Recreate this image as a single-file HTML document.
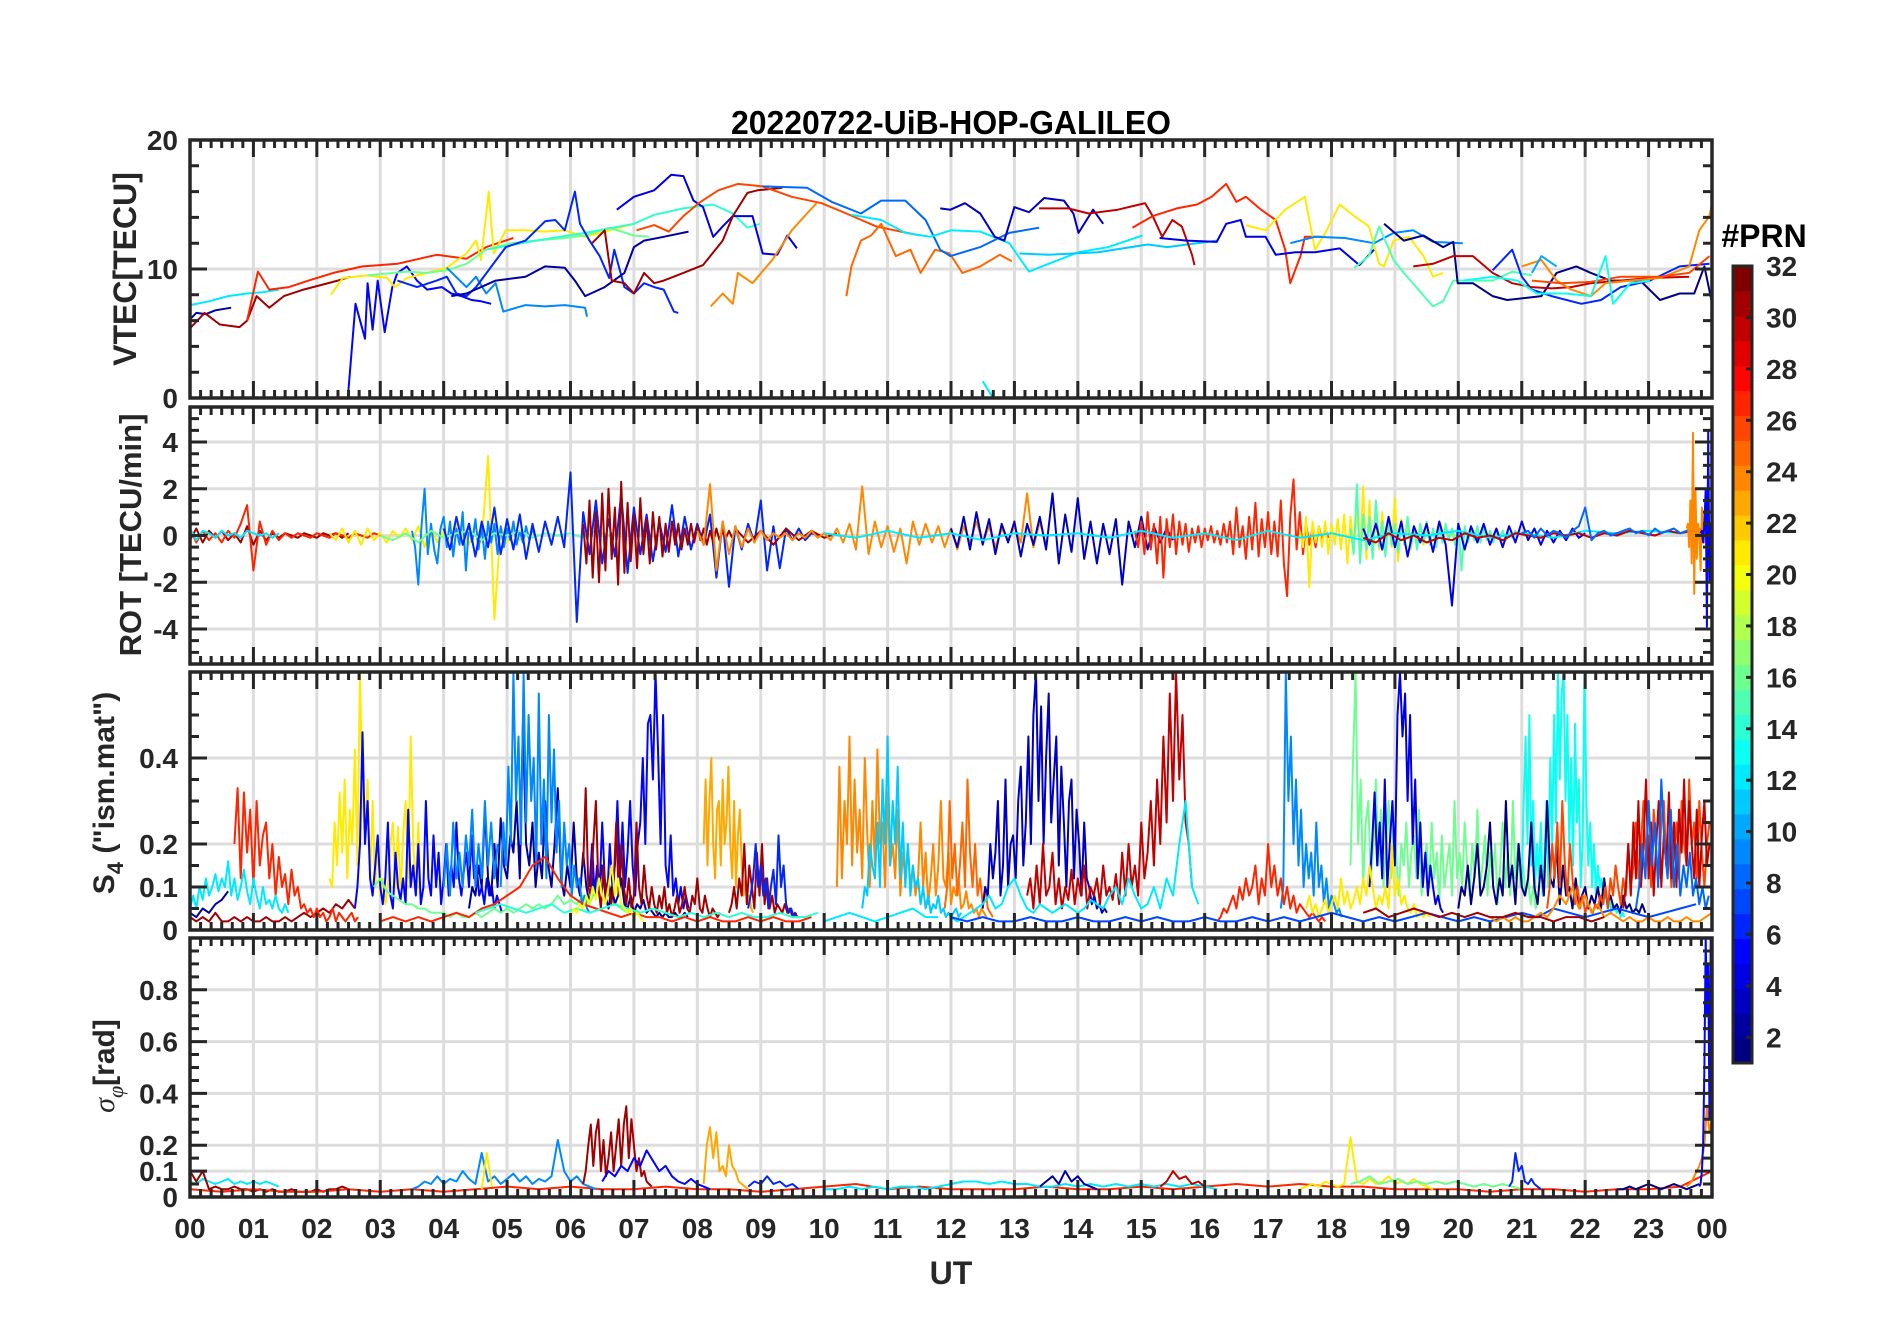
<!DOCTYPE html>
<html><head><meta charset="utf-8"><title>20220722-UiB-HOP-GALILEO</title>
<style>
html,body{margin:0;padding:0;background:#fff;}
svg{display:block;}
text{font-family:"Liberation Sans",Arial,sans-serif;font-weight:bold;fill:#262626;}
</style></head>
<body>
<svg id="chart" xmlns="http://www.w3.org/2000/svg" width="1902" height="1330" viewBox="0 0 1902 1330">
<rect x="0" y="0" width="1902" height="1330" fill="#fff"/>
<g id="grids"></g>
<g id="series"></g>
<g id="axes"></g>
<g id="cbar"></g>
<text x="951" y="134" text-anchor="middle" font-size="33" textLength="440" lengthAdjust="spacingAndGlyphs" style="fill:#000">20220722-UiB-HOP-GALILEO</text>
<text x="951" y="1284" text-anchor="middle" font-size="32">UT</text>
<text transform="translate(125,269) rotate(-90)" y="11" text-anchor="middle" font-size="32">VTEC[TECU]</text>
<text transform="translate(130,535) rotate(-90)" y="11" text-anchor="middle" font-size="31">ROT [TECU/min]</text>
<text transform="translate(103,793) rotate(-90)" y="11" text-anchor="middle" font-size="30">S<tspan font-size="22" dy="9">4</tspan><tspan dy="-9"> ("ism.mat")</tspan></text>
<text transform="translate(104,1066) rotate(-90)" y="10" text-anchor="middle" font-size="30"><tspan style="font-family:'Liberation Serif',serif;font-style:italic;font-weight:normal">σ</tspan><tspan font-size="22" dy="9" style="font-family:'Liberation Serif',serif;font-style:italic;font-weight:normal">φ</tspan><tspan dy="-9">[rad]</tspan></text>
<text x="1764" y="247" text-anchor="middle" font-size="32" style="fill:#000">#PRN</text>
</svg>
<script>
// ---------- VTEC data (hours, TECU) ----------
const vtecPrn = [12,2,31,27,5,21,16,14,9,6,2,4,31,26,24,25,8,12,11,3,30,27,4,21,9,15,1,6,30,24,26,13,12,10];
const vtecTimes = [
[0,0.3,0.6,0.9,1.15,1.4],
[0,0.1,0.25,0.4,0.65],
[0,0.23,0.47,0.78,0.9,1.05,1.25,1.48,1.79,2.33,2.53],
[0.9,1.07,1.25,1.56,1.87,2.26,2.72,3.27,3.89,4.36,4.67,5.1],
[2.49,2.61,2.76,2.8,2.88,2.96,3.07,3.19,3.27,3.42,3.58,3.74,3.97,4.12,4.28,4.44,4.59,4.75],
[2.22,2.41,2.8,3.11,3.23,3.42,3.74,4.05,4.36,4.51,4.59,4.71,4.79,4.98,5.29,5.6,5.91,6.23,6.54,6.85,7.0],
[2.8,3.42,3.74,4.05,4.36,4.67,5.06,5.45,5.91,6.23,6.61,7.0,7.24],
[4.67,5.45,6.23,7.0,7.32,7.78,8.25,8.56,8.79,8.99],
[4.05,4.36,4.51,4.67,4.82,4.94,5.29,5.6,5.91,6.23,6.26],
[3.27,3.58,3.89,4.05,4.2,4.36,4.51,4.98,5.29,5.6,5.76,5.91,6.07,6.15,6.3,6.46,6.61,6.69,6.85,7.0,7.16,7.32,7.47,7.63,7.7],
[4.12,4.36,4.82,5.29,5.6,5.91,6.07,6.23,6.54,6.85,7.0,7.16,7.47,7.86],
[6.73,7.0,7.32,7.59,7.78,7.94,8.09,8.25,8.4,8.56,8.87,9.03,9.26,9.42,9.57],
[6.34,6.54,6.65,6.85,7.0,7.16,7.32,7.47,7.78,8.09,8.4,8.56,8.79,8.95,9.34],
[7.04,7.32,7.55,7.78,8.02,8.33,8.64,9.03,9.49,9.96,10.35,10.82,11.21,11.52],
[8.21,8.4,8.56,8.64,8.87,9.18,9.49,9.73,9.88],
[10.35,10.43,10.58,10.74,10.9,11.13,11.36,11.52,11.75,11.98,12.18,12.46,12.77,12.96],
[9.03,9.73,10.12,10.58,10.9,11.28,11.6,11.83,11.99,12.46,12.92,13.39],
[10.43,10.9,11.28,11.67,12.0,12.46,12.92,13.23,13.54,14.01,14.48,15.02],
[13.08,13.54,14.32,15.1,15.41,16.19],
[11.83,11.99,12.22,12.46,12.69,12.84,13.0,13.23,13.47,13.78,13.93,14.01,14.24,14.4],
[13.39,13.85,14.17,14.63,15.06,15.18,15.33,15.49,15.64,15.8,15.84],
[14.86,15.18,15.56,15.88,16.11,16.34,16.5,16.65,16.89,17.12,17.27,17.35,17.51,17.58,17.9],
[15.29,15.72,16.19,16.34,16.57,16.65,16.96,17.12,17.43,17.74,18.13,18.44,18.67],
[16.65,16.96,17.27,17.58,17.74,17.9,18.13,18.36,18.59,18.75,18.83,18.98,19.22,19.45,19.6,19.76],
[17.35,17.74,18.21,18.67,18.98,19.29,19.6,20.07],
[18.36,18.59,18.75,18.98,19.14,19.37,19.6,19.76,19.92,20.23,20.54,20.85,21.16],
[18.83,19.14,19.45,19.76,19.92,19.99,20.23,20.54,20.77,21.31,21.55,21.86,22.09,22.4,22.87,23.18,23.49,23.72,23.88,23.99],
[20.54,20.85,21.0,21.16,21.47,21.94,22.25,22.56,23.02,23.49,23.96],
[19.29,19.6,19.92,20.23,20.54,20.85,21.16,21.47,21.78,22.09,22.56,23.02,23.64],
[21.0,21.31,21.55,21.78,22.09,22.32,22.71,23.18,23.64,23.8,23.96,24.0],
[21.16,21.62,22.09,22.56,23.18,23.64,23.96],
[20.07,20.54,20.93,21.24,21.7,22.09,22.32,22.44,22.71,23.02],
[12.5,12.65],
[21.16,21.31,21.55]
];
const vtecVals = [
[7.2,7.5,7.9,8.1,8.2,8.4],
[6.1,6.6,6.5,6.8,7.0],
[5.4,6.6,5.7,5.5,6.0,7.9,7.0,7.9,8.4,9.1,9.4],
[6.0,9.8,8.4,8.6,9.1,9.7,10.2,10.4,11.1,10.8,11.7,12.4],
[0.1,7.3,4.6,8.9,5.3,9.1,5.1,8.6,9.7,10.2,9.1,8.4,8.6,8.1,7.9,7.6,7.5,7.3],
[8.0,9.3,9.5,9.3,8.6,9.3,9.7,10.1,11.2,12.2,10.7,16.0,11.2,13.0,13.0,12.9,13.0,12.5,12.9,13.3,13.5],
[9.5,9.8,9.7,9.9,10.4,11.5,12.0,12.2,12.4,12.6,13.2,12.6,12.5],
[11.5,12.2,12.8,13.5,14.2,14.7,15.0,14.3,13.2,13.5],
[10.1,8.6,9.4,8.1,8.9,6.7,7.2,7.1,7.2,7.0,6.3],
[9.1,8.6,9.1,9.4,8.1,7.9,8.6,11.7,12.2,13.7,13.8,13.0,16.0,13.5,12.2,11.0,9.3,11.5,8.6,8.1,8.9,8.6,8.4,6.7,6.6],
[7.9,8.1,9.1,9.4,10.2,10.1,9.1,7.9,8.6,9.7,11.7,12.2,12.5,12.9],
[14.6,15.6,16.1,17.3,17.2,15.3,14.8,12.5,13.3,14.1,14.1,11.2,11.1,12.6,11.6],
[12.0,13.0,9.1,8.9,8.1,9.7,8.9,9.1,9.7,10.3,12.2,14.1,15.9,16.1,16.3],
[13.0,13.4,12.9,14.1,15.1,16.1,16.6,16.4,15.6,15.1,14.3,13.3,12.9,12.6],
[7.1,8.1,7.3,9.7,8.9,10.7,13.0,14.3,15.1],
[7.9,10.2,12.2,12.6,13.5,11.0,11.5,9.7,11.5,11.2,9.7,10.2,11.1,10.6],
[16.4,16.3,15.2,14.3,15.3,15.3,13.8,11.5,11.0,11.7,12.8,13.2],
[14.2,13.8,12.8,12.5,13.0,12.9,12.0,9.8,10.4,11.3,11.7,12.6],
[11.2,11.1,11.3,11.9,11.7,12.2],
[14.7,14.6,15.1,14.3,12.5,12.2,14.8,14.4,15.5,15.3,14.3,12.8,14.6,13.5],
[14.7,14.7,14.3,14.6,15.1,14.1,12.5,13.8,13.3,11.1,10.3],
[13.2,14.1,14.7,15.0,15.6,16.6,15.2,15.6,14.6,13.8,11.5,8.9,11.0,12.5,12.5],
[12.4,12.2,12.1,13.5,13.8,12.5,12.5,11.1,11.3,11.3,11.6,10.3,11.5],
[13.4,13.0,14.6,15.6,11.5,12.8,15.0,14.1,13.3,10.4,10.2,12.2,12.5,11.0,9.4,9.7],
[12.0,12.5,12.4,12.0,12.8,13.0,12.1,12.0],
[10.1,11.0,13.3,10.7,9.7,8.4,7.1,7.5,9.1,9.1,9.1,9.8,9.5],
[13.5,12.2,12.6,11.7,12.1,8.9,8.9,7.9,7.6,7.9,9.7,10.2,9.7,9.1,9.1,7.6,8.1,8.1,10.2,7.6],
[9.9,11.5,9.4,8.4,7.9,7.3,7.6,8.6,9.1,10.2,10.4],
[10.2,10.4,11.0,11.0,9.7,8.9,8.6,8.5,8.6,8.9,9.1,9.3,9.4],
[10.2,10.7,9.1,8.4,7.9,8.9,9.1,9.3,10.2,13.0,14.1,15.1],
[9.1,8.9,9.0,9.4,9.4,9.7,11.0],
[9.1,9.4,9.1,8.1,8.1,7.9,11.0,7.3,8.9,9.1],
[1.3,0.1],
[9.7,11.0,10.2]
];

// ---------- ROT data (regular sampling: start hour, step hours) ----------
const rotPrn = [31,27,12,21,9,16,6,31,31,24,3,27,21,15,4,12,30,8,24,5];
const rotStart = [0,0,0,2.2,3.5,3.0,4.0,6.2,8.6,8.0,12.0,14.9,17.5,18.3,18.5,10.0,18.5,21.0,23.6,23.82];
const rotStep = [0.1,0.1,0.1,0.1,0.05,0.2,0.1,0.05,0.2,0.1,0.1,0.05,0.05,0.05,0.1,0.5,0.2,0.1,0.02,0.02];
const rotVals = [
[-0.2,0.3,-0.3,0.2,-0.1,0.2,-0.2,0.1,-0.3,0.4,-0.4,0.2,-0.2,0.1,-0.1,0.1,0,-0.1,0.1,0,-0.1,0.1,0,0.1,-0.1,0.1],
[0.3,-0.3,0.2,-0.2,0.1,-0.3,0.2,-0.1,0.5,1.3,-1.5,0.6,-0.4,0.2,-0.2,0.1,-0.1,0.1,0.0,-0.1,0.1,0,-0.1,0.1,0,-0.1,0.1,0.0,-0.1,0.1,0],
[0.3,-0.2,0.2,0.1,-0.1,0.2,0,0.1,-0.1,0.2,0.1,0,0.1,-0.1,0.1],
[0.1,-0.2,0.3,-0.3,0.2,-0.4,0.3,-0.2,0.1,-0.3,0.2,-0.1,0.3,-0.2,0.4,-0.5,0.3,-0.3,0.2,-0.6,0.5,0.3,-0.4,0.4,-0.3,3.4,-3.6,0.4,-0.3,0.2,-0.2,0.1],
[0.2,-0.5,-2.1,0.4,2.0,-0.8,0.5,-0.6,-1.2,0.3,0.8,-0.5,0.6,-0.9,0.3,-0.4,1.0,-1.5,0.5,-0.3,0.7,-0.6,0.4,-1.0,0.6,-0.3,0.5,-0.8,0.4,-0.5,0.3,-0.2,0.6,-0.4,0.2,-0.3,0.4,-0.2,0.3,-0.1],
[0,-0.2,0.1,-0.3,0.2,-0.1,0.1,0.2,-0.2,0.1,0,0.2,-0.1,0.1,0,0.1,-0.1,0.2,0,0.1],
[0.3,-0.6,0.8,-0.4,0.5,-0.9,0.6,-0.5,1.2,-0.8,0.7,-0.6,0.9,-1.0,0.5,-0.7,0.6,-0.4,0.8,-0.5,2.7,-3.7,1.0,-0.8,1.5,-1.2,0.7,-0.9,1.8,-1.6,1.2,-0.8,0.9,-1.1,0.6,-0.7,1.3,-0.9,0.8,-0.6,0.5,-0.4,0.9,-1.8,0.6,-2.2,0.4,-0.6,0.5,-0.3,1.5,-1.5,0.4,-1.4,0.3,-0.2,0.3,-0.2,0.1,0],
[0.5,-1.2,1.5,-1.8,1.0,-2.0,1.8,-1.5,2.0,-1.0,1.2,-2.1,2.3,-1.6,1.4,-1.1,0.9,-1.4,1.6,-0.8,0.7,-1.2,1.0,-0.6,0.8,-0.9,0.5,-0.7,0.6,-0.4,0.5,-0.6,0.3,-0.4,0.5,-0.3,0.4,-0.2,0.3,-0.4,0.2,-0.3,0.3,-0.2,0.2,-0.1,0.2,-0.1],
[0.3,-0.3,0.2,-0.4,0.3,-0.2,0.2,-0.1,0.1],
[0.2,-0.4,2.2,-1.5,0.6,-0.8,0.4,-0.5,0.3,-0.3,0.2,-0.2,0.1,-0.1,0.1,-0.2,0.1,-0.1,0.2,-0.1,0.1,-0.2,0.3,-0.3,0.5,-0.6,2.1,-0.8,0.6,-0.5,0.4,-0.7,0.3,-1.2,0.6,-0.4,0.5,-0.3,0.4,-0.5,0.3,-0.6,0.4,-0.3,0.6,-0.3,0.4,-0.5,0.3,-0.2,0.4,-0.3,1.8,-0.5,0.6,-0.4],
[0.3,-0.5,0.8,-0.6,1.0,-0.4,0.7,-0.8,0.5,-0.3,0.6,-0.9,0.5,-0.4,0.8,-0.6,1.8,-1.2,0.9,-0.7,1.6,-1.0,0.6,-1.2,0.5,-0.8,0.7,-2.1,0.6,-0.5,0.8,-0.6,0.4,-0.3,0.3,-0.2],
[0.2,-0.5,0.6,-0.8,1.0,-0.6,0.5,-1.2,0.8,-1.8,0.7,-0.5,0.9,-0.8,0.6,-0.4,0.5,-0.7,0.3,-0.3,0.4,-0.5,0.3,-0.2,0.4,-0.3,0.2,-0.4,0.5,-0.3,0.6,-0.8,1.2,-0.5,0.4,-1.0,0.8,-0.6,1.4,-0.9,0.7,-0.5,1.0,-0.8,0.6,-0.9,1.5,-1.2,-2.6,0.8,2.4,-0.6,1.0,-0.8,0.5,-0.4,0.3,-0.5,0.4,-0.2,0.3,-0.1],
[0.2,-0.5,0.8,-2.2,0.6,-0.3,0.4,-0.5,0.6,-0.8,0.5,-0.4,0.7,-0.6,0.9,-1.2,0.8,-0.5,1.2,-0.8,2.1,-1.0,1.5,-0.9,0.8,-0.6,1.0,-0.7,0.6,-0.5,1.6,-1.1,0.7,-0.4,0.5,-0.6,0.4,-0.3,0.5,-0.4,0.3,-0.3,0.2,-0.2,0.3,-0.2,0.2,-0.1,0.1,0],
[0.3,-0.8,2.2,-1.2,0.9,-0.6,0.8,-1.0,1.5,-0.5,0.6,-0.9,0.7,-0.4,0.5,-0.7,0.6,-0.4,0.8,-0.5,0.4,-0.6,0.5,-0.3,0.6,-0.4,0.3,-0.5,0.4,-0.3,0.5,-0.2,0.3,-0.4,0.5,-1.5,0.4,-0.3,0.3,-0.2,0.4,-0.3,0.3,-0.2,0.2,-0.3,0.2,-0.1,0.2,-0.2,0.1,-0.1,0.2,0],
[0.3,-0.4,0.5,-0.6,0.8,-0.5,0.6,-0.9,0.4,-0.3,0.5,-0.7,0.6,-0.4,-3.0,0.5,-0.6,0.4,-0.3,0.5,-0.4,0.3,-0.5,0.4,-0.3,0.6,-0.2,0.3,-0.4,0.2,-0.3,0.2,-0.2,0.3,-0.1,0.1],
[0.1,-0.1,0.2,-0.1,0.1,-0.2,0.1,0,0.1,-0.1,0.2,-0.1,0.1,-0.2,0.2,-0.1,0.1,-0.2,0.1,0,0.2,-0.1,0.1,-0.1,0.2,0.1,0.2,0.1,0.3],
[-0.1,-0.3,0.1,-0.2,0,-0.3,-0.1,-0.2,0.1,-0.1,0,-0.2,0.1,0,-0.1,0.1,0,0.1,-0.1,0.1,0,0.2,0.1,0,0.2,0.1,0.2,0.3],
[0.1,0.2,-0.1,0.3,0,0.2,0.1,-0.1,0.2,0.4,1.2,-0.2,0.1,0.2,0,0.1,0.2,0.3,0.1,0.2,0,0.3,0.1,0.2,0.3,0.1,0.2,0.4,0.2,0.3],
[0.3,0.5,-0.5,1.5,-1.2,4.4,-2.5,2,-1,0.5,0.2,-1.5,1.2,0.4,-0.3,0.8,-0.5,0.2,0.4,0.1,0.5],
[0.1,0.2,-0.3,0.5,2,-3.9,4.5,-2,0.5]
];

// ---------- S4 data ----------
const s4Prn = [31,27,12,2,21,5,16,2,9,9,5,31,23,31,6,24,25,11,3,30,12,12,9,27,16,4,21,13,1,26,30,7,24,31,27,14,20,8];
const s4Start = [0,0.7,0,0,2.2,2.6,2.9,4.4,4.9,4.0,6.3,6.2,8.1,8.5,8.8,10.2,11.9,10.6,12.5,13.2,12.0,10.0,17.2,16.2,18.3,18.6,17.6,21.0,20.0,21.4,22.6,12.0,20.5,18.5,3.0,4.5,6.0,22.8];
const s4Step = [0.1,0.05,0.05,0.1,0.04,0.04,0.1,0.05,0.04,0.05,0.04,0.04,0.03,0.04,0.04,0.04,0.04,0.04,0.04,0.05,0.1,0.2,0.04,0.05,0.04,0.04,0.05,0.03,0.05,0.04,0.04,0.25,0.1,0.2,0.2,0.2,0.05,0.05];
const s4Vals = [
[0.03,0.02,0.03,0.02,0.04,0.02,0.02,0.03,0.02,0.03,0.02,0.02,0.03,0.02,0.02,0.03,0.02,0.03,0.04,0.03,0.04,0.05,0.04,0.06,0.05,0.07,0.05],
[0.2,0.33,0.12,0.32,0.18,0.28,0.1,0.3,0.15,0.22,0.25,0.12,0.2,0.08,0.17,0.1,0.13,0.06,0.14,0.08,0.1,0.05,0.06,0.04,0.05,0.03,0.05,0.03,0.04,0.02,0.03,0.05,0.02,0.04,0.03,0.02,0.03,0.04,0.02,0.03],
[0.05,0.08,0.05,0.1,0.07,0.12,0.08,0.1,0.13,0.09,0.12,0.1,0.16,0.08,0.12,0.07,0.1,0.14,0.09,0.06,0.12,0.08,0.05,0.1,0.06,0.07,0.05,0.08,0.05,0.04,0.06,0.04],
[0.04,0.03,0.05,0.04,0.06,0.07,0.09],
[0.12,0.1,0.25,0.15,0.32,0.18,0.35,0.12,0.28,0.2,0.42,0.15,0.6,0.3,0.22,0.35,0.12,0.3,0.1,0.2,0.08,0.12,0.06,0.1,0.2,0.25,0.1,0.24,0.08,0.22,0.3,0.12,0.45,0.2,0.1,0.25,0.08],
[0.05,0.1,0.2,0.46,0.2,0.3,0.12,0.08,0.15,0.22,0.1,0.06,0.12,0.25,0.08,0.05,0.18,0.1,0.07,0.12,0.06,0.28,0.1,0.15,0.08,0.2,0.06,0.1,0.3,0.12,0.08,0.22,0.1,0.18,0.06,0.12,0.2,0.08,0.15,0.1,0.25,0.12,0.08,0.14,0.18,0.1,0.22,0.12,0.15,0.08,0.1,0.06,0.12,0.08,0.1,0.05,0.08,0.06,0.04],
[0.1,0.12,0.09,0.08,0.07,0.06,0.06,0.05,0.05,0.04,0.04,0.04,0.03,0.04,0.03,0.03,0.04,0.03,0.04,0.05,0.04,0.05,0.04,0.05,0.06,0.05,0.06,0.05,0.06,0.08,0.06,0.07,0.06,0.08,0.06,0.1,0.15,0.08,0.06,0.05,0.04,0.05,0.04],
[0.05,0.1,0.08,0.15,0.1,0.28,0.12,0.08,0.2,0.1,0.26,0.15,0.12,0.22,0.18,0.3,0.12,0.48,0.2,0.15,0.25,0.1,0.18,0.12,0.3,0.15,0.1,0.2,0.33,0.12,0.08,0.15,0.1,0.25,0.12,0.08,0.18,0.1,0.06,0.12,0.08,0.1,0.15,0.08,0.05,0.1,0.06,0.08,0.12,0.06,0.05,0.08,0.04,0.06,0.05,0.07,0.04,0.05,0.04,0.03,0.04,0.03,0.04,0.03,0.03,0.04,0.03,0.03,0.04,0.03],
[0.1,0.25,0.15,0.38,0.2,0.6,0.3,0.45,0.2,0.6,0.25,0.5,0.3,0.4,0.15,0.55,0.2,0.35,0.12,0.5,0.25,0.42,0.18,0.3,0.1,0.25,0.15,0.2,0.08,0.15,0.1,0.12,0.06,0.08,0.05,0.04],
[0.1,0.2,0.08,0.25,0.12,0.18,0.1,0.22,0.15,0.28,0.1,0.2,0.12,0.3,0.15,0.25,0.12,0.2],
[0.1,0.2,0.08,0.15,0.1,0.25,0.12,0.08,0.2,0.1,0.15,0.3,0.12,0.25,0.1,0.18,0.3,0.15,0.08,0.2,0.25,0.4,0.2,0.48,0.5,0.35,0.6,0.42,0.2,0.5,0.15,0.1,0.22,0.08,0.12,0.06,0.1,0.05,0.08,0.05],
[0.15,0.33,0.1,0.08,0.2,0.3,0.1,0.05,0.15,0.07,0.12,0.06,0.1,0.25,0.08,0.2,0.1,0.06,0.12,0.05,0.08,0.25,0.1,0.06,0.15,0.08,0.05,0.1,0.06,0.04,0.08,0.05,0.1,0.04,0.06,0.03,0.05,0.08,0.04,0.06,0.1,0.05,0.04,0.08,0.06,0.12,0.05,0.04,0.08,0.05,0.03,0.05,0.04,0.03,0.04],
[0.2,0.35,0.15,0.3,0.4,0.2,0.12,0.28,0.3,0.15,0.35,0.2,0.25,0.38,0.2,0.12,0.3,0.1,0.22,0.28,0.15,0.08,0.12,0.06,0.08,0.05,0.04],
[0.04,0.06,0.1,0.05,0.12,0.08,0.2,0.06,0.15,0.1,0.05,0.18,0.08,0.2,0.06,0.12,0.05,0.08,0.04,0.06,0.05,0.04,0.06,0.04,0.05,0.03,0.04,0.03],
[0.05,0.08,0.12,0.2,0.1,0.15,0.08,0.12,0.05,0.1,0.14,0.06,0.22,0.1,0.15,0.06,0.04,0.05,0.03,0.04],
[0.1,0.38,0.12,0.3,0.2,0.45,0.15,0.35,0.18,0.28,0.12,0.4,0.22,0.1,0.3,0.15,0.42,0.2,0.25,0.1,0.32,0.15,0.2,0.12,0.28,0.08,0.18,0.12,0.2,0.1,0.15,0.08,0.12,0.25,0.1,0.18,0.06,0.12,0.2,0.08,0.15,0.3,0.12,0.1,0.18,0.06,0.1,0.08,0.12,0.05,0.06,0.09,0.05,0.06,0.04,0.05,0.03,0.05,0.04,0.03],
[0.05,0.1,0.3,0.12,0.2,0.08,0.15,0.25,0.1,0.35,0.18,0.1,0.2,0.08,0.12,0.06,0.1,0.05,0.04,0.03],
[0.05,0.1,0.08,0.2,0.15,0.12,0.25,0.1,0.35,0.2,0.45,0.15,0.3,0.2,0.38,0.12,0.25,0.1,0.2,0.08,0.15,0.1,0.12,0.06,0.1,0.05,0.08,0.04,0.06,0.05,0.08,0.04,0.05,0.03,0.04,0.03,0.04,0.05,0.03,0.04],
[0.05,0.1,0.08,0.2,0.12,0.18,0.3,0.08,0.15,0.35,0.1,0.2,0.22,0.12,0.3,0.38,0.15,0.25,0.45,0.2,0.5,0.6,0.3,0.52,0.2,0.4,0.55,0.25,0.35,0.45,0.15,0.38,0.25,0.1,0.3,0.35,0.12,0.28,0.2,0.08,0.25,0.12,0.1,0.06,0.08,0.05,0.06,0.04,0.05,0.04],
[0.08,0.12,0.05,0.15,0.06,0.2,0.08,0.1,0.18,0.06,0.12,0.05,0.1,0.07,0.14,0.06,0.12,0.08,0.15,0.05,0.1,0.08,0.12,0.06,0.15,0.08,0.1,0.07,0.13,0.06,0.18,0.08,0.2,0.1,0.15,0.08,0.25,0.12,0.18,0.3,0.15,0.35,0.2,0.45,0.25,0.55,0.3,0.6,0.35,0.5,0.25,0.2,0.1],
[0.03,0.02,0.03,0.04,0.05,0.06,0.08,0.05,0.06,0.1,0.12,0.08,0.05,0.04,0.06,0.05,0.04,0.05,0.06,0.05,0.04,0.05,0.07,0.06,0.05,0.08,0.1,0.06,0.12,0.08,0.05,0.06,0.1,0.05,0.12,0.08,0.2,0.3,0.1,0.06],
[0.02,0.03,0.04,0.03,0.02,0.03,0.04,0.05,0.03,0.03],
[0.05,0.1,0.6,0.3,0.45,0.2,0.35,0.15,0.28,0.1,0.2,0.12,0.18,0.08,0.25,0.1,0.15,0.06,0.12,0.05,0.08,0.06,0.04,0.05,0.03],
[0.02,0.03,0.05,0.04,0.06,0.08,0.05,0.1,0.07,0.12,0.08,0.1,0.15,0.06,0.12,0.08,0.2,0.1,0.15,0.08,0.12,0.06,0.1,0.05,0.08,0.04,0.06,0.05,0.04,0.03,0.04,0.03,0.02,0.03,0.02],
[0.15,0.4,0.6,0.2,0.35,0.1,0.25,0.3,0.12,0.2,0.35,0.15,0.28,0.1,0.2,0.3,0.12,0.25,0.18,0.08,0.2,0.15,0.25,0.1,0.18,0.22,0.12,0.28,0.08,0.15,0.2,0.1,0.25,0.12,0.18,0.06,0.22,0.1,0.15,0.2,0.08,0.3,0.12,0.18,0.1,0.25,0.15,0.08,0.2,0.12,0.28,0.1,0.15,0.22,0.08,0.18,0.12,0.2,0.06,0.15,0.25,0.1,0.18,0.08,0.3,0.12,0.2,0.1,0.15,0.08,0.12,0.06,0.1,0.05,0.08],
[0.1,0.2,0.32,0.15,0.25,0.12,0.35,0.1,0.2,0.3,0.15,0.5,0.6,0.45,0.55,0.3,0.5,0.2,0.35,0.12,0.25,0.1,0.18,0.08,0.15,0.1,0.06,0.08,0.05,0.04],
[0.05,0.08,0.04,0.06,0.03,0.05,0.07,0.04,0.06,0.08,0.05,0.12,0.06,0.09,0.05,0.07,0.1,0.06,0.12,0.08,0.15,0.1,0.05,0.08,0.06,0.1,0.05,0.2,0.08,0.12,0.06,0.08,0.05,0.04,0.06,0.03,0.04,0.03,0.04,0.03],
[0.1,0.3,0.45,0.2,0.5,0.15,0.3,0.1,0.2,0.12,0.25,0.08,0.18,0.3,0.1,0.4,0.2,0.5,0.25,0.6,0.35,0.55,0.6,0.3,0.5,0.2,0.4,0.15,0.48,0.25,0.35,0.1,0.2,0.6,0.3,0.15,0.25,0.1,0.2,0.08,0.15,0.1,0.12,0.06,0.1,0.05,0.08,0.04,0.06,0.05,0.04,0.05,0.03,0.04,0.03],
[0.05,0.1,0.08,0.15,0.06,0.12,0.2,0.08,0.1,0.15,0.25,0.1,0.06,0.12,0.08,0.3,0.1,0.15,0.06,0.2,0.1,0.08,0.12,0.25,0.1,0.06,0.15,0.08,0.3,0.12,0.1,0.2,0.06,0.15,0.08,0.1,0.05,0.12,0.06,0.08,0.1,0.05,0.08,0.06,0.1,0.05,0.12,0.06,0.08,0.05,0.06,0.04,0.08,0.05,0.06,0.04,0.05,0.04,0.06,0.04],
[0.05,0.1,0.2,0.12,0.25,0.1,0.3,0.15,0.08,0.2,0.12,0.06,0.1,0.05,0.08,0.04,0.06,0.05,0.04,0.06,0.05,0.08,0.06,0.1,0.05,0.12,0.08,0.15,0.1,0.06,0.12,0.08,0.2,0.1,0.15,0.25,0.12,0.2,0.3,0.15,0.22,0.1,0.28,0.18,0.12,0.25,0.3,0.15,0.2,0.1,0.18,0.25,0.12,0.3,0.2,0.15,0.35,0.2,0.25,0.12,0.3,0.18,0.1,0.2,0.25],
[0.05,0.1,0.2,0.08,0.25,0.12,0.3,0.1,0.2,0.35,0.12,0.25,0.08,0.2,0.3,0.1,0.22,0.15,0.32,0.12,0.25,0.1,0.28,0.18,0.35,0.15,0.3,0.2,0.12,0.28,0.1,0.22,0.3,0.15,0.2],
[0.03,0.02,0.03,0.02,0.02,0.03,0.02,0.02,0.03,0.02,0.02,0.03,0.02,0.03,0.02,0.02,0.03,0.02,0.02,0.03,0.02,0.03,0.02,0.03,0.04,0.03,0.02,0.03,0.02,0.03,0.04,0.03,0.02,0.03,0.02,0.03,0.04,0.03,0.05,0.04,0.03,0.04,0.05,0.04,0.03,0.04,0.05,0.06],
[0.03,0.02,0.03,0.02,0.03,0.02,0.02,0.03,0.04,0.03,0.05,0.08,0.06,0.1,0.05,0.08,0.04,0.06,0.03,0.04,0.03,0.02,0.03,0.02,0.02,0.03,0.02,0.02,0.03,0.02,0.02,0.03,0.02,0.02,0.03,0.04],
[0.04,0.05,0.03,0.04,0.05,0.04,0.03,0.04,0.03,0.04,0.03,0.03,0.04,0.03,0.03,0.02,0.03,0.03,0.02,0.03],
[0.02,0.03,0.02,0.03,0.02,0.03,0.04,0.03,0.05,0.06,0.08,0.1,0.15,0.17,0.12,0.08,0.06,0.05,0.04,0.03,0.04,0.03,0.03,0.02,0.03,0.02,0.03,0.02,0.02,0.03,0.02,0.03,0.02,0.02,0.03],
[0.04,0.05,0.06,0.05,0.04,0.05,0.06,0.04,0.05,0.04,0.05,0.06,0.05,0.04,0.05,0.04,0.03,0.04,0.03,0.04,0.03,0.04,0.03,0.03,0.04,0.03,0.03,0.04],
[0.03,0.05,0.04,0.06,0.05,0.08,0.06,0.1,0.07,0.12,0.08,0.06,0.1,0.15,0.08,0.12,0.06,0.05,0.04,0.05,0.03,0.04,0.03,0.02],
[0.05,0.1,0.2,0.12,0.3,0.15,0.25,0.1,0.35,0.2,0.12,0.28,0.1,0.2,0.08,0.15,0.1,0.18,0.08,0.12,0.06,0.1,0.05,0.08]
];

// ---------- sigma-phi data ----------
const sigPrn = [12,31,27,9,21,31,5,23,6,12,2,30,21,16,6,24,5,1];
const sigStart = [0,0,0,3.5,4.6,6.2,6.5,8.1,8.8,10.0,13.4,15.3,17.5,18.3,20.8,23.6,23.8,22.5];
const sigStep = [0.1,0.1,0.5,0.1,0.08,0.04,0.1,0.05,0.1,0.2,0.1,0.1,0.1,0.15,0.05,0.04,0.02,0.1];
const sigVals = [
[0.06,0.05,0.07,0.06,0.05,0.06,0.07,0.05,0.06,0.05,0.06,0.05,0.06,0.05,0.04],
[0.1,0.06,0.1,0.03,0.04,0.03,0.03,0.04,0.03,0.03,0.02,0.03,0.02,0.03,0.02,0.02,0.03,0.02,0.02,0.02,0.03,0.02,0.03,0.03,0.04,0.03],
[0.03,0.02,0.03,0.02,0.02,0.03,0.02,0.03,0.02,0.03,0.04,0.03,0.04,0.03,0.03,0.04,0.03,0.03,0.02,0.03,0.04,0.05,0.03,0.04,0.03,0.03,0.03,0.04,0.03,0.03,0.04,0.03,0.04,0.05,0.04,0.05,0.04,0.04,0.03,0.03,0.03,0.02,0.03,0.03,0.02,0.03,0.03,0.04,0.1],
[0.03,0.04,0.06,0.05,0.08,0.05,0.07,0.06,0.1,0.07,0.05,0.17,0.06,0.08,0.05,0.07,0.09,0.06,0.08,0.05,0.07,0.06,0.08,0.22,0.1,0.06,0.08,0.05,0.04,0.03],
[0.03,0.17,0.04],
[0.05,0.1,0.2,0.28,0.12,0.25,0.3,0.1,0.22,0.08,0.15,0.25,0.1,0.2,0.3,0.12,0.28,0.35,0.15,0.3,0.2,0.1,0.15,0.08,0.1,0.06,0.05,0.04],
[0.06,0.1,0.08,0.12,0.1,0.15,0.12,0.18,0.14,0.1,0.12,0.08,0.06,0.05,0.07,0.05,0.04,0.03],
[0.05,0.2,0.27,0.15,0.25,0.1,0.12,0.08,0.2,0.12,0.1,0.06,0.05,0.04,0.03],
[0.04,0.06,0.05,0.08,0.05,0.06,0.04,0.05,0.03],
[0.03,0.03,0.04,0.03,0.04,0.03,0.04,0.04,0.03,0.04,0.05,0.06,0.06,0.05,0.06,0.05,0.05,0.04,0.04,0.05,0.04,0.05,0.04,0.05,0.04,0.05,0.04,0.05,0.04,0.05,0.04,0.03],
[0.04,0.06,0.08,0.05,0.1,0.06,0.08,0.05,0.04,0.03],
[0.04,0.06,0.1,0.07,0.08,0.05,0.06,0.04],
[0.03,0.04,0.05,0.04,0.06,0.05,0.04,0.05,0.23,0.06,0.05,0.07,0.05,0.06,0.08,0.05,0.06,0.05,0.07,0.05,0.04,0.03],
[0.05,0.06,0.08,0.05,0.06,0.07,0.05,0.06,0.05,0.06,0.05,0.06,0.05,0.04,0.05,0.04,0.05,0.04,0.03],
[0.04,0.06,0.17,0.1,0.12,0.06,0.05,0.07,0.05,0.04,0.03],
[0.04,0.05,0.06,0.08,0.1,0.12,0.15,0.2,0.35,0.25,0.3],
[0.04,0.05,0.1,0.2,0.5,1.0,0.7,0.9,0.3,1.0,0.6],
[0.03,0.03,0.04,0.03,0.04,0.05,0.04,0.03,0.04,0.05,0.04,0.03,0.04,0.05]
];

// ---------- axis tick labels ----------
const hourLabels = ["00","01","02","03","04","05","06","07","08","09","10","11","12","13","14","15","16","17","18","19","20","21","22","23","00"];
const vtecTicks = [0,10,20];
const rotTicks = [-4,-2,0,2,4];
const s4Ticks = [0,0.1,0.2,0.4];
const sigTicks = [0,0.1,0.2,0.4,0.6,0.8];
const cbarTicks = [2,4,6,8,10,12,14,16,18,20,22,24,26,28,30,32];

(function(){
const NS = "http://www.w3.org/2000/svg";
const X0 = 190, X1 = 1712;
function xS(h){ return X0 + h*(X1-X0)/24; }
function mk(tag, attrs, parent){
  const e = document.createElementNS(NS, tag);
  for (const k in attrs) e.setAttribute(k, attrs[k]);
  parent.appendChild(e);
  return e;
}
function jet(x){
  const c = v => Math.max(0, Math.min(1, v));
  const r = c(Math.min(4*x-1.5, -4*x+4.5));
  const g = c(Math.min(4*x-0.5, -4*x+3.5));
  const b = c(Math.min(4*x+0.5, -4*x+2.5));
  return "rgb(" + Math.round(r*255) + "," + Math.round(g*255) + "," + Math.round(b*255) + ")";
}
function prnColor(p){ return jet((p-1)/31); }

const panels = [
  {name:"vtec", top:140, bot:398, min:0, max:20, ticks:vtecTicks, minor:2, labels:["0","10","20"]},
  {name:"rot", top:407, bot:664, min:-5.5, max:5.5, ticks:rotTicks, minor:0.5, labels:["-4","-2","0","2","4"]},
  {name:"s4", top:672, bot:930, min:0, max:0.6, ticks:s4Ticks, minor:0.05, labels:["0","0.1","0.2","0.4"]},
  {name:"sigma", top:938, bot:1197, min:0, max:1, ticks:sigTicks, minor:0.05, labels:["0","0.1","0.2","0.4","0.6","0.8"]}
];
panels.forEach(p => { p.y = v => p.bot - (v - p.min)/(p.max - p.min)*(p.bot - p.top); });

const grids = document.getElementById("grids");
const series = document.getElementById("series");
const axes = document.getElementById("axes");
const defs = mk("defs", {}, document.getElementById("chart"));

panels.forEach((p, pi) => {
  const cp = mk("clipPath", {id:"clip"+pi}, defs);
  mk("rect", {x:X0, y:p.top, width:X1-X0, height:p.bot-p.top}, cp);
  for (let h=1; h<24; h++){
    const gl = mk("line", {x1:xS(h), x2:xS(h), y1:p.top, y2:p.bot, stroke:"#dddddd", "stroke-width":3}, grids);
    
    
  }
  p.ticks.forEach(t => {
    if (t === p.min || t === p.max) return;
    const gl = mk("line", {x1:X0, x2:X1, y1:p.y(t), y2:p.y(t), stroke:"#dddddd", "stroke-width":3}, grids);
    
    
  });
  const fr = mk("rect", {x:X0, y:p.top, width:X1-X0, height:p.bot-p.top, fill:"none", stroke:"#262626", "stroke-width":3.5}, axes);
  
  
  let d = "";
  for (let k=0; k<=144; k++){
    const x = xS(k/6), L = (k%6===0) ? 17 : 8;
    d += "M"+x+" "+p.top+"v"+L+"M"+x+" "+p.bot+"v"+(-L);
  }
  const startMinor = Math.ceil(p.min/p.minor - 1e-9);
  for (let k=startMinor; k*p.minor <= p.max + 1e-9; k++){
    const v = k*p.minor;
    const major = p.ticks.some(t => Math.abs(t - v) < 1e-9);
    const yy = p.y(v), L = major ? 17 : 9;
    d += "M"+X0+" "+yy+"h"+L+"M"+X1+" "+yy+"h"+(-L);
  }
  const tk = mk("path", {d:d, stroke:"#262626", "stroke-width":3, fill:"none"}, axes);
  
  
  p.ticks.forEach((t, i) => {
    const tl = mk("text", {x:178, y:p.y(t)+10, "text-anchor":"end", "font-size":28}, axes);
    tl.textContent = p.labels[i];
    
    
  });
});

hourLabels.forEach((lab, h) => {
  const t = mk("text", {x:xS(h), y:1238, "text-anchor":"middle", "font-size":28}, axes);
  t.textContent = lab;
  
  
});

function drawLine(pi, times, vals, prn, name){
  const p = panels[pi];
  let d = "";
  for (let i=0; i<vals.length; i++){
    d += (i ? "L" : "M") + xS(times[i]).toFixed(1) + " " + p.y(vals[i]).toFixed(1);
  }
  const el = mk("path", {d:d, fill:"none", stroke:prnColor(prn), "stroke-width":2, "stroke-linejoin":"round", "clip-path":"url(#clip"+pi+")"}, series);
  
  
}

vtecVals.forEach((v, i) => drawLine(0, vtecTimes[i], v, vtecPrn[i], "vtec-prn-" + vtecPrn[i]));
function regular(start, step, vals){ return vals.map((_, i) => start + i*step); }
rotVals.forEach((v, i) => drawLine(1, regular(rotStart[i], rotStep[i], v), v, rotPrn[i], "rot-prn-" + rotPrn[i]));
s4Vals.forEach((v, i) => drawLine(2, regular(s4Start[i], s4Step[i], v), v, s4Prn[i], "s4-prn-" + s4Prn[i]));
sigVals.forEach((v, i) => drawLine(3, regular(sigStart[i], sigStep[i], v), v, sigPrn[i], "sigma-prn-" + sigPrn[i]));

const cb = document.getElementById("cbar");
const CT = 266, CB = 1063, CX = 1733, CW = 19;
const bandH = (CB-CT)/32;
for (let i=0; i<32; i++){
  const r = mk("rect", {x:CX, y:CB-(i+1)*bandH, width:CW, height:bandH+0.6, fill:jet(i/31)}, cb);
  
  
}
const cbf = mk("rect", {x:CX, y:CT, width:CW, height:CB-CT, fill:"none", stroke:"#262626", "stroke-width":3}, cb);


const cy = v => CB - (v-1)/31*(CB-CT);
cbarTicks.forEach(v => {
  const tl = mk("line", {x1:CX+CW-6, x2:CX+CW, y1:cy(v), y2:cy(v), stroke:"#262626", "stroke-width":3}, cb);
  
  
  const t = mk("text", {x:1766, y:cy(v)+10, "font-size":28}, cb);
  t.textContent = String(v);
  
  
});
})();
</script>
</body></html>
